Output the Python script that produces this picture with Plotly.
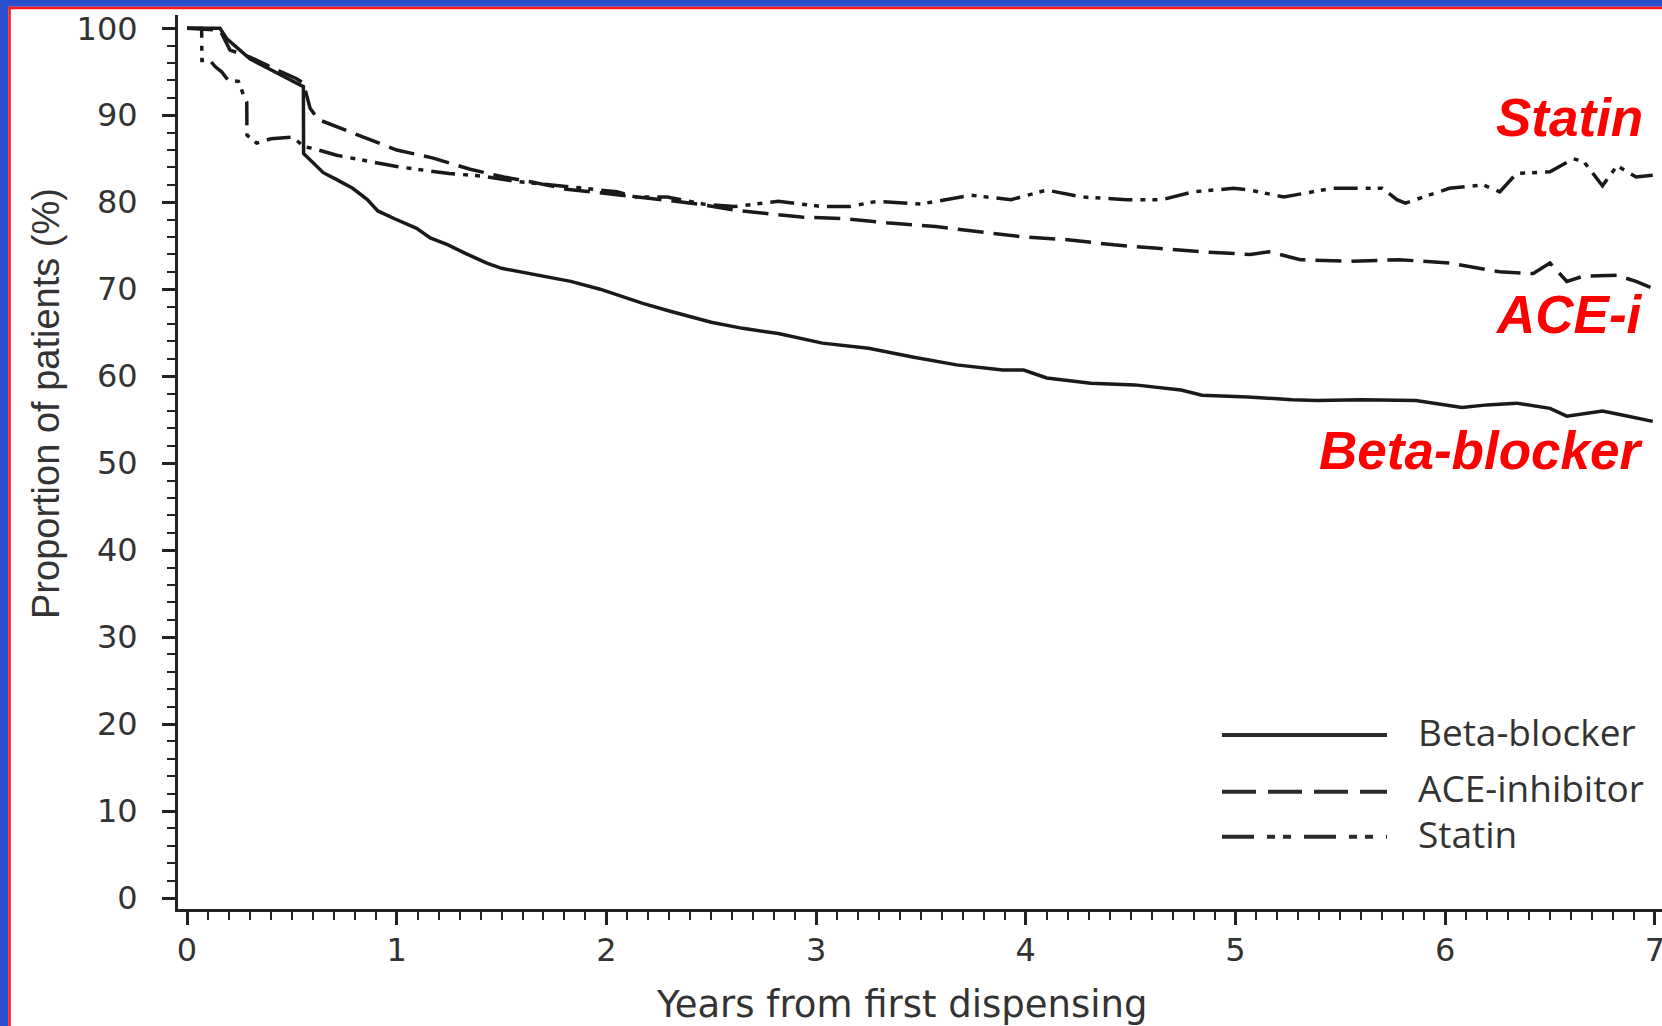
import plotly.graph_objects as go

# ---------------- data ----------------
bb_years = [0, 0.157, 0.19, 0.3, 0.45, 0.555, 0.556, 0.587, 0.65, 0.714, 0.79, 0.86, 0.91, 0.99,
            1.095, 1.16, 1.245, 1.33, 1.43, 1.5, 1.63, 1.83, 1.97, 2.17, 2.3, 2.5, 2.65, 2.82,
            3.03, 3.25, 3.46, 3.67, 3.89, 3.99, 4.1, 4.31, 4.52, 4.74, 4.84, 5.06, 5.27, 5.39,
            5.6, 5.86, 6.08, 6.2, 6.34, 6.5, 6.58, 6.68, 6.75, 6.85, 6.99]
bb_pct = [100, 100, 98.8, 96.5, 94.6, 93.3, 85.6, 84.9, 83.4, 82.6, 81.6, 80.3, 79.0, 78.1,
          77.0, 75.9, 75.1, 74.1, 73.0, 72.4, 71.8, 70.9, 70.0, 68.4, 67.5, 66.2, 65.5, 64.9,
          63.8, 63.2, 62.2, 61.3, 60.7, 60.7, 59.8, 59.2, 59.0, 58.4, 57.8, 57.6, 57.3, 57.2,
          57.3, 57.2, 56.4, 56.7, 56.9, 56.3, 55.4, 55.7, 56.0, 55.5, 54.8]

ace_years = [0, 0.157, 0.205, 0.3, 0.43, 0.523, 0.555, 0.587, 0.627, 0.68, 0.84, 1.0, 1.17,
             1.35, 1.51, 1.65, 1.81, 2.0, 2.17, 2.3, 2.46, 2.61, 2.8, 2.93, 3.14, 3.35, 3.57,
             3.78, 3.99, 4.2, 4.42, 4.63, 4.84, 5.07, 5.16, 5.31, 5.55, 5.78, 6.02, 6.26, 6.42,
             6.5, 6.58, 6.66, 6.82, 6.91, 6.99]
ace_pct = [100, 99.8, 97.5, 96.7, 95.2, 94.2, 93.7, 90.8, 89.5, 89.0, 87.5, 86.0, 85.1,
           83.8, 82.9, 82.3, 81.5, 81.0, 80.6, 80.2, 79.7, 79.1, 78.6, 78.3, 78.1, 77.6, 77.2,
           76.6, 76.0, 75.7, 75.1, 74.7, 74.3, 74.0, 74.3, 73.4, 73.2, 73.4, 73.0, 72.0, 71.8,
           73.0, 70.9, 71.5, 71.6, 70.9, 70.1]

statin_years = [0, 0.07, 0.071, 0.11, 0.134, 0.165, 0.197, 0.245, 0.27, 0.285, 0.286, 0.332,
                0.4, 0.507, 0.555, 0.6, 0.714, 0.85, 1.0, 1.25, 1.41, 1.57, 1.73, 1.89, 2.05,
                2.14, 2.29, 2.46, 2.61, 2.82, 3.03, 3.16, 3.29, 3.5, 3.74, 3.93, 4.1, 4.27,
                4.48, 4.65, 4.8, 4.99, 5.07, 5.23, 5.46, 5.7, 5.77, 5.81, 6.02, 6.18, 6.26,
                6.34, 6.5, 6.61, 6.66, 6.75, 6.82, 6.91, 6.99]
statin_pct = [100, 100, 96.3, 96.3, 95.6, 95.0, 94.0, 93.9, 92.3, 91.5, 87.7, 86.8,
              87.3, 87.5, 86.4, 86.2, 85.4, 84.8, 84.1, 83.3, 83.0, 82.4, 82.0, 81.6, 81.2,
              80.6, 80.6, 79.8, 79.5, 80.1, 79.5, 79.5, 80.1, 79.8, 80.8, 80.3, 81.4, 80.6,
              80.3, 80.3, 81.2, 81.6, 81.4, 80.6, 81.6, 81.6, 80.3, 79.9, 81.6, 82.0, 81.2,
              83.3, 83.5, 85.0, 84.7, 81.9, 84.2, 82.9, 83.1]

series_names = ["Beta-blocker", "ACE-inhibitor", "Statin"]
curve_labels = ["Statin", "ACE-i", "Beta-blocker"]
x_tick_vals = [0, 1, 2, 3, 4, 5, 6, 7]
y_tick_vals = [0, 10, 20, 30, 40, 50, 60, 70, 80, 90, 100]
x_title = "Years from first dispensing"
y_title = "Proportion of patients (%)"

# ---------------- geometry ----------------
W, H = 1662, 1026
L, R, T, B = 178, 0, 15, 117
PW, PH = W - L - R, H - T - B


def px(xp):
    return (xp - L) / PW


def py(yp):
    return (H - B - yp) / PH


LINE = "#1a1a1a"
AX = "#222222"
TXT = "#333333"
DASH_ACE = "26px,10px"
DASH_ST = "24px,8px,5px,7px,5px,8px"

fig = go.Figure()
fig.add_trace(go.Scatter(x=bb_years, y=bb_pct, mode="lines", name=series_names[0],
                         line=dict(color=LINE, width=3.5)))
fig.add_trace(go.Scatter(x=ace_years, y=ace_pct, mode="lines", name=series_names[1],
                         line=dict(color=LINE, width=3.5, dash=DASH_ACE)))
fig.add_trace(go.Scatter(x=statin_years, y=statin_pct, mode="lines", name=series_names[2],
                         line=dict(color=LINE, width=3.5, dash=DASH_ST)))

shapes = []
# slide frame (blue band + thin red line) on left and top
BLUE = "#2b50cf"
shapes.append(dict(type="rect", xref="paper", yref="paper", x0=px(0), x1=px(8.3), y0=py(H), y1=py(0),
                   fillcolor=BLUE, line=dict(width=0), layer="above"))
shapes.append(dict(type="rect", xref="paper", yref="paper", x0=px(0), x1=px(W), y0=py(6.7), y1=py(0),
                   fillcolor=BLUE, line=dict(width=0), layer="above"))
shapes.append(dict(type="rect", xref="paper", yref="paper", x0=px(8.3), x1=px(10.8), y0=py(H), y1=py(6.7),
                   fillcolor="#ff1a1a", line=dict(width=0), layer="above"))
shapes.append(dict(type="rect", xref="paper", yref="paper", x0=px(8.3), x1=px(W), y0=py(9.2), y1=py(6.7),
                   fillcolor="#ff1a1a", line=dict(width=0), layer="above"))

# legend keys
leg_line_y = [735, 791.7, 836.7]
leg_text_y = [731, 787.5, 833]
leg_dash = ["solid", "34px,12px", "32px,13px,8px,8px,8px,13px"]
for yy, dd in zip(leg_line_y, leg_dash):
    shapes.append(dict(type="line", xref="paper", yref="paper", x0=px(1222), x1=px(1387),
                       y0=py(yy), y1=py(yy), line=dict(color="#2a2a2a", width=4, dash=dd)))

annotations = []
for name, yy in zip(series_names, leg_text_y):
    annotations.append(dict(text=name, xref="paper", yref="paper", x=px(1416), y=py(yy),
                            xanchor="left", yanchor="middle", showarrow=False,
                            font=dict(family="Open Sans", size=37, color=TXT)))

# red curve labels
red_y = [118, 314, 450]
for name, yy in zip(curve_labels, red_y):
    annotations.append(dict(text="<b><i>%s</i></b>" % name, xref="paper", yref="paper",
                            x=px(1645), y=py(yy), xanchor="right", yanchor="middle",
                            showarrow=False,
                            font=dict(family="Liberation Sans", size=53, color="#ff0000")))

# axis titles
annotations.append(dict(text=x_title, xref="paper", yref="paper", x=px(902), y=py(1004),
                        xanchor="center", yanchor="middle", showarrow=False,
                        font=dict(family="DejaVu Sans", size=37, color=TXT)))
annotations.append(dict(text=y_title, xref="paper", yref="paper", x=px(46), y=py(404),
                        xanchor="center", yanchor="middle", showarrow=False, textangle=-90,
                        font=dict(family="Liberation Sans", size=38, color=TXT)))

fig.update_layout(
    width=W, height=H,
    margin=dict(l=L, r=R, t=T, b=B, pad=0),
    paper_bgcolor="white", plot_bgcolor="white",
    showlegend=False,
    shapes=shapes,
    annotations=annotations,
    xaxis=dict(range=[-0.0429, 7.034], showline=True, linewidth=3, linecolor=AX,
               ticks="outside", ticklen=13, tickwidth=2.5, tickcolor=AX,
               tickmode="array", tickvals=x_tick_vals, ticktext=[str(v) for v in x_tick_vals],
               tickfont=dict(family="DejaVu Sans", size=32, color=TXT),
               minor=dict(tickmode="linear", tick0=0, dtick=0.1, ticks="outside", ticklen=8,
                          tickwidth=2, tickcolor=AX),
               showgrid=False, zeroline=False, ticklabelstandoff=-2, automargin=False,
               ticklabeloverflow="allow", fixedrange=True),
    yaxis=dict(range=[-1.265, 101.53], showline=True, linewidth=3, linecolor=AX,
               ticks="outside", ticklen=13, tickwidth=2.5, tickcolor=AX,
               tickmode="array", tickvals=y_tick_vals, ticktext=[str(v) for v in y_tick_vals],
               tickfont=dict(family="DejaVu Sans", size=32, color=TXT),
               minor=dict(tickmode="linear", tick0=0, dtick=2, ticks="outside", ticklen=8,
                          tickwidth=2, tickcolor=AX),
               showgrid=False, zeroline=False, ticklabelstandoff=18, automargin=False,
               ticklabeloverflow="allow", fixedrange=True),
)

fig.write_html("out.html", config={"displayModeBar": False},
               post_script="document.body.style.margin='0px';document.body.style.overflow='hidden';")
